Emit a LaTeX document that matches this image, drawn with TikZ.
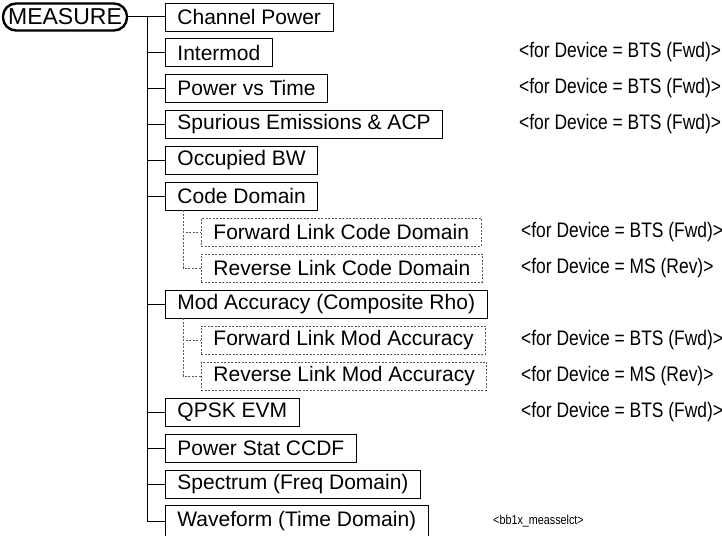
\documentclass[tikz,border=0pt]{standalone}
\usepackage{fontspec}
\setmainfont{Liberation Sans}
\newfontfamily\notefont[FakeStretch=0.83]{Liberation Sans}
\begin{document}
\begin{tikzpicture}[x=1pt,y=-1pt,
  box/.style={draw=black, line width=0.9pt, minimum height=28pt, inner xsep=12pt, anchor=west, font=\fontsize{21}{24}\selectfont},
  dbox/.style={box, draw=black!65, dash pattern=on 2pt off 1.5pt},
  note/.style={anchor=west, inner sep=0pt, font=\notefont\fontsize{21}{24}\selectfont},
  link/.style={line width=1pt},
  dlink/.style={line width=0.9pt, draw=black!65, dash pattern=on 2pt off 1.5pt}]
\useasboundingbox (0,0) rectangle (722,535);
\node[draw, line width=2.4pt, rounded corners=13pt, minimum height=27pt, minimum width=124pt, font=\fontsize{23}{26}\selectfont] (measure) at (65,17) {MEASURE};
\node[box] (cp) at (165,17) {Channel Power};
\node[box] (im) at (165,52.5) {Intermod};
\node[box] (pvt) at (165,88) {Power vs Time};
\node[box] (sp) at (165,124) {Spurious Emissions \& ACP};
\node[box] (ob) at (165,160) {Occupied BW};
\node[box] (cd) at (165,196) {Code Domain};
\node[dbox] (fcd) at (201,232) {Forward Link Code Domain};
\node[dbox] (rcd) at (201,268) {Reverse Link Code Domain};
\node[box] (ma) at (165,304) {Mod Accuracy (Composite Rho)};
\node[dbox] (fma) at (201,340) {Forward Link Mod Accuracy};
\node[dbox] (rma) at (201,376) {Reverse Link Mod Accuracy};
\node[box] (qe) at (165,412) {QPSK EVM};
\node[box] (psc) at (165,448) {Power Stat CCDF};
\node[box] (spec) at (165,484) {Spectrum (Freq Domain)};
\node[box, minimum height=32pt] (wf) at (165,521) {Waveform (Time Domain)};
% connectors
\coordinate (top) at (147,17);
\coordinate (bot) at (147,521);
\coordinate (dx) at (183,0);
\draw[link] (measure.east) -- (cp.west);
\draw[link] (top) -- (bot) -- (wf.west);
\foreach \n in {im,pvt,sp,ob,cd,ma,qe,psc,spec}
  \draw[link] (\n.west -| top) -- (\n.west);
\draw[dlink] (cd.south -| dx) |- (fcd.west);
\draw[dlink] (cd.south -| dx) |- (rcd.west);
\draw[dlink] (ma.south -| dx) |- (fma.west);
\draw[dlink] (ma.south -| dx) |- (rma.west);
% notes
\node[note] (n1) at (519,52.5) {<for Device = BTS (Fwd)>};
\node[note] (n2) at (519,88) {<for Device = BTS (Fwd)>};
\node[note] (n3) at (519,124) {<for Device = BTS (Fwd)>};
\node[note] (n4) at (521,232) {<for Device = BTS (Fwd)>};
\node[note] (n5) at (521,268) {<for Device = MS (Rev)>};
\node[note] (n6) at (521,340) {<for Device = BTS (Fwd)>};
\node[note] (n7) at (521,376) {<for Device = MS (Rev)>};
\node[note] (n8) at (521,412) {<for Device = BTS (Fwd)>};
\node[note, font=\notefont\fontsize{13}{15}\selectfont] (tag) at (493,521) {<bb1x\_measselct>};
\end{tikzpicture}
\end{document}
